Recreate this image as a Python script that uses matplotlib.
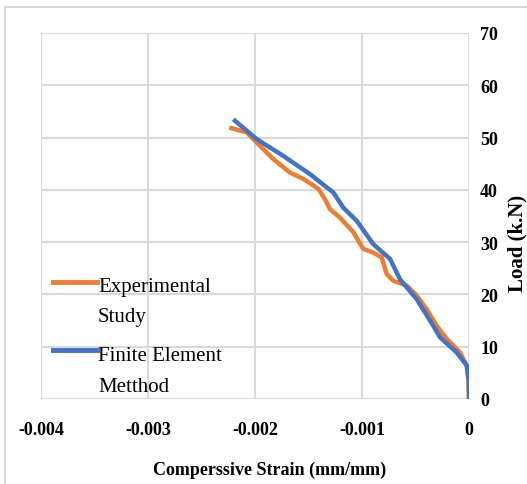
import matplotlib.pyplot as plt
from matplotlib.lines import Line2D
from matplotlib.patches import Rectangle

# strain (mm/mm) and load (kN)
exp_strain = [-0.00224, -0.002078, -0.001953, -0.001829, -0.001673, -0.001548, -0.001408,
              -0.001346, -0.001299, -0.001206, -0.001081, -0.000988, -0.000894, -0.000816,
              -0.000769, -0.000707, -0.000582, -0.000489, -0.000396, -0.000302, -0.000208,
              -0.000084, -0.000022, -0.000006, 0.0]
exp_load = [51.9, 51.0, 48.4, 45.9, 43.3, 42.1, 40.2, 38.2, 36.3, 34.7, 31.9, 28.7, 28.0, 27.1,
            23.9, 22.6, 21.7, 19.8, 17.2, 14.0, 11.5, 8.9, 6.4, 3.8, 0.0]

fem_strain = [-0.002203, -0.001984, -0.001736, -0.001486, -0.001268, -0.001175, -0.00105,
              -0.000894, -0.000738, -0.000645, -0.000489, -0.000334, -0.000271, -0.000115,
              -0.000021, 0.0, 0.0]
fem_load = [53.5, 49.7, 46.5, 43.0, 39.5, 36.6, 34.1, 29.6, 26.8, 22.9, 19.1, 14.0, 11.8, 8.9,
            6.4, 3.2, 0.0]

x_ticks = [-0.004, -0.003, -0.002, -0.001, 0]
x_labels = ["-0.004", "-0.003", "-0.002", "-0.001", "0"]
y_ticks = [0, 10, 20, 30, 40, 50, 60, 70]

ORANGE = "#ED7D31"
BLUE = "#4472C4"
GRID = "#d9d9d9"

W, H = 527, 485
plt.rcParams["font.family"] = ["Liberation Serif", "DejaVu Serif"]

fig = plt.figure(figsize=(W / 100, H / 100), dpi=100)


def fx(px):
    return px / W


def fy(py):
    return 1 - py / H


# outer chart frame (runs past the right/bottom edge)
fig.add_artist(Rectangle((fx(5), fy(600)), 1.2, fy(8) - fy(600), transform=fig.transFigure,
                         fill=False, edgecolor=GRID, lw=1.5))

ax = fig.add_axes([fx(41), fy(400), fx(469) - fx(41), fy(34) - fy(400)])
ax.plot(exp_strain, exp_load, color=ORANGE, lw=3.2, solid_capstyle="butt", solid_joinstyle="round")
ax.plot(fem_strain, fem_load, color=BLUE, lw=3.2, solid_capstyle="butt", solid_joinstyle="round")

ax.set_xlim(-0.004, 0)
ax.set_ylim(0, 70)
ax.set_xticks(x_ticks)
ax.set_xticklabels(x_labels)
ax.set_yticks(y_ticks)
ax.yaxis.tick_right()
ax.tick_params(axis="x", length=0, pad=16, labelsize=13)
ax.tick_params(axis="y", length=0, pad=8, labelsize=13)
for lab in ax.get_xticklabels() + ax.get_yticklabels():
    lab.set_fontweight("bold")
ax.grid(True, color=GRID, lw=1.5)
ax.set_axisbelow(True)
for s in ax.spines.values():
    s.set_visible(False)

fig.text(fx(270), fy(470), "Comperssive Strain (mm/mm)", ha="center", va="center",
         fontsize=13, fontweight="bold")
fig.text(fx(517), fy(243), "Load (k.N)", ha="center", va="center", rotation=90,
         fontsize=15, fontweight="bold")

# legend drawn by hand so the handle sits on the first line of each label
fig.add_artist(Line2D([fx(53), fx(97)], [fy(283), fy(283)], transform=fig.transFigure,
                      color=ORANGE, lw=3.5))
fig.text(fx(98), fy(292), "Experimental", fontsize=15, va="baseline")
fig.text(fx(98), fy(322), "Study", fontsize=15, va="baseline")
fig.add_artist(Line2D([fx(53), fx(97)], [fy(351), fy(351)], transform=fig.transFigure,
                      color=BLUE, lw=3.5))
fig.text(fx(98), fy(361), "Finite Element", fontsize=15, va="baseline")
fig.text(fx(98), fy(392), "Metthod", fontsize=15, va="baseline")

fig.savefig("out.png", dpi=100)
